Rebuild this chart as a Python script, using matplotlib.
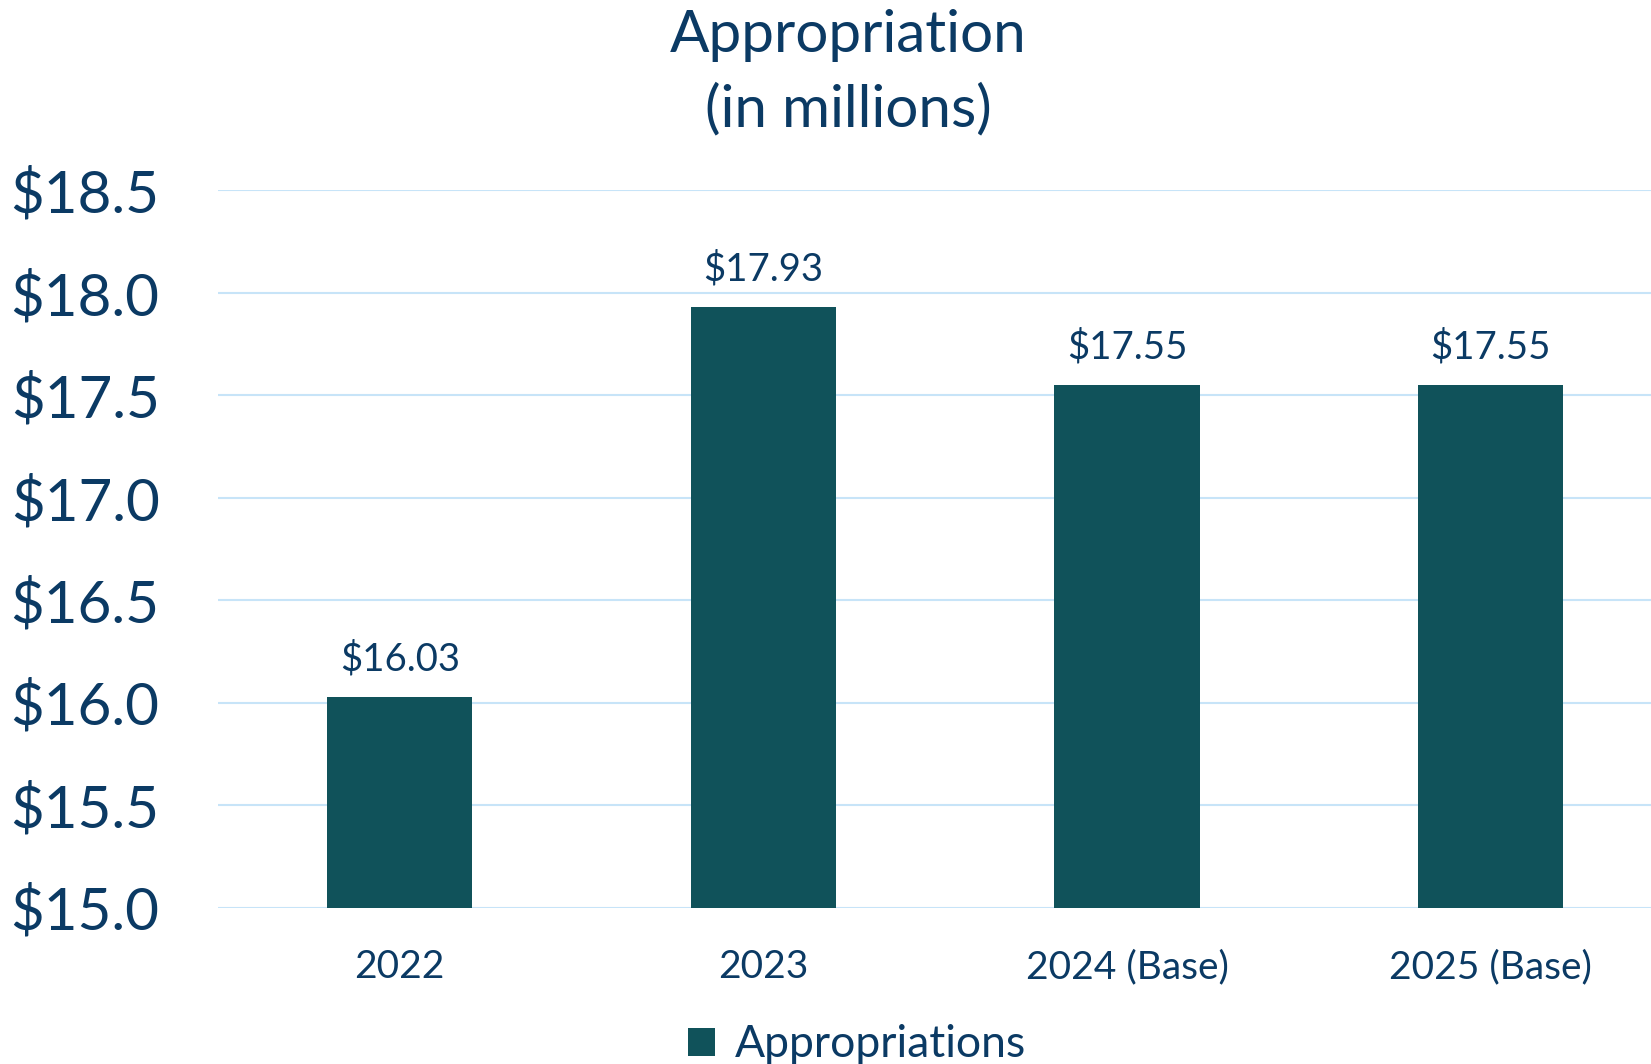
import matplotlib
matplotlib.use("Agg")
import matplotlib.pyplot as plt
from matplotlib.ticker import FixedLocator, FuncFormatter

plt.rcParams['font.family'] = ['Lato', 'DejaVu Sans']

# data
categories = ['2022', '2023', '2024 (Base)', '2025 (Base)']
appropriations = [16.03, 17.93, 17.55, 17.55]
y_ticks = [15.0, 15.5, 16.0, 16.5, 17.0, 17.5, 18.0, 18.5]

bar_color = '#10525A'
text_color = '#0B3A64'
grid_color = '#C7E4F8'

fig = plt.figure(figsize=(16.51, 10.64), dpi=100)
ax = fig.add_axes([0.132, 0.147, 0.881, 0.674])

x = range(len(categories))
bars = ax.bar(x, appropriations, width=0.40, color=bar_color, zorder=3,
              label='Appropriations', bottom=0)

for xi, v in zip(x, appropriations):
    ax.annotate(f'${v:.2f}', (xi, v), xytext=(0, 14), textcoords='offset points',
                ha='center', va='bottom', fontsize=27.5, color=text_color)

ax.set_ylim(15.0, 18.5)
ax.set_xlim(-0.5, len(categories) - 0.5)
ax.yaxis.set_major_locator(FixedLocator(y_ticks))
ax.yaxis.set_major_formatter(FuncFormatter(lambda v, p: f'${v:.1f}'))
ax.set_xticks(list(x))
ax.set_xticklabels(categories)

ax.grid(axis='y', color=grid_color, linewidth=1.5, zorder=0)
for s in ax.spines.values():
    s.set_visible(False)
ax.tick_params(axis='both', length=0, colors=text_color)
ax.tick_params(axis='y', labelsize=42, pad=42)
ax.tick_params(axis='x', labelsize=28, pad=30)

fig.text(0.514, 0.967, 'Appropriation', ha='center', va='center', fontsize=42, color=text_color)
fig.text(0.514, 0.897, '(in millions)', ha='center', va='center', fontsize=42, color=text_color)

leg = fig.legend(handles=[bars], loc='center', bbox_to_anchor=(0.519, 0.018), frameon=False,
                 fontsize=32, handlelength=0.6, handleheight=0.6, handletextpad=0.45)
for t in leg.get_texts():
    t.set_color(text_color)

fig.savefig('out.png', dpi=100)
